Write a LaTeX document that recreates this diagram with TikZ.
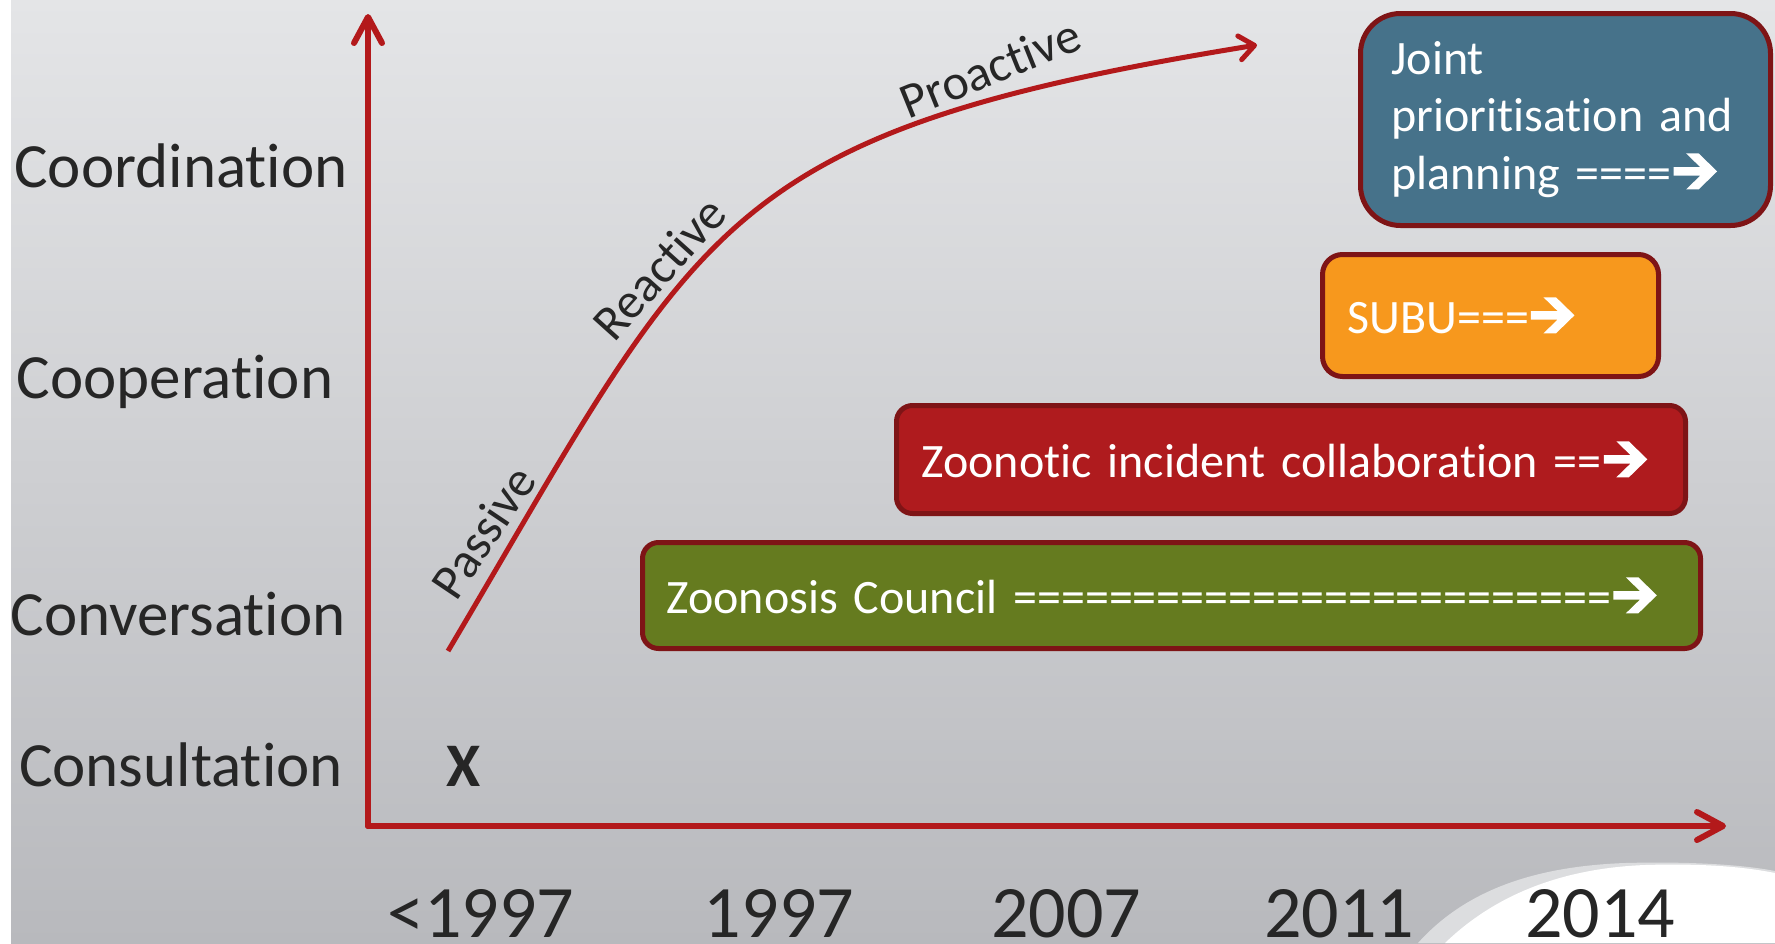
\documentclass[tikz,border=0pt]{standalone}
\usepackage{fontspec}
\setmainfont{Carlito}[Ligatures={NoCommon,NoRequired,NoContextual},Contextuals=NoAlternate]
\usetikzlibrary{arrows.meta}
\definecolor{axisred}{HTML}{B3191B}
\definecolor{txt}{HTML}{262626}
\definecolor{bordred}{HTML}{7E1416}
\definecolor{bluebox}{HTML}{46728A}
\definecolor{orangebox}{HTML}{F7981D}
\definecolor{redbox}{HTML}{AF1B1E}
\definecolor{greenbox}{HTML}{657B1F}
\definecolor{bgtop}{HTML}{E4E5E7}
\definecolor{bgbot}{HTML}{B8B9BD}
\definecolor{swooshgray}{HTML}{DCDDDF}
\newsavebox\arrbox
\sbox\arrbox{\tikz[x=1pt,y=1pt]\fill[white] (0,13.7) -- (26.6,13.7) -- (12.5,0) -- (25,0) -- (43.5,18) -- (25,36) -- (12.5,36) -- (26.6,22.3) -- (0,22.3) -- cycle;}
\newcommand{\rarr}{\kern2pt\usebox\arrbox}
\begin{document}
\begin{tikzpicture}[x=1pt,y=-1pt,
  axisline/.style={draw=axisred, line width=6pt, line cap=round, -{Straight Barb[length=26pt,width=28pt,round]}},
  curveline/.style={draw=axisred, line width=5pt, -{Straight Barb[length=15pt,width=24pt,round]}},
  level/.style={text=txt, inner sep=0pt, anchor=base, font=\fontsize{63}{70}\selectfont},
  year/.style={text=txt, inner sep=0pt, anchor=base, font=\fontsize{74}{80}\selectfont},
  phase/.style={text=txt, inner sep=0pt, font=\fontsize{50}{56}\selectfont},
  box/.style={draw=bordred, line width=5pt, text=white, anchor=north west, align=left,
     font=\fontsize{48}{57.5}\selectfont, inner ysep=0pt},
]
\useasboundingbox (0,0) rectangle (1775,943);
\fill[white] (0,0) rectangle (1775,943);
\shade[top color=bgtop, bottom color=bgbot] (11,0) rectangle (1775,943);
% bottom-right swoosh
\fill[swooshgray] (1418,943) .. controls (1470,885) and (1545,866) .. (1625,863)
   .. controls (1700,861) and (1750,866) .. (1775,871) -- (1775,943) -- cycle;
\fill[white] (1445,943) .. controls (1500,890) and (1570,868) .. (1645,865)
   .. controls (1710,863) and (1750,868) .. (1775,873) -- (1775,943) -- cycle;

% axes
\coordinate (origin) at (368,826);
\coordinate (ytip) at (368,14);
\coordinate (xtip) at (1726,826);
\draw[axisline] (origin) -- (ytip);
\draw[axisline] (origin) -- (xtip);

% level labels
\node[level] (coord) at (181,187) {Coordination};
\node[level] (coop) at (175,398) {Cooperation};
\node[level] (conv) at (178,635) {Conversation};
\node[level] (cons) at (181,786) {Consultation};

% years
\node[year] (y0) at (481,937) {<1997};
\node[year] (y1) at (779,937) {1997};
\node[year] (y2) at (1066,937) {2007};
\node[year] (y3) at (1339,937) {2011};
\node[year] (y4) at (1600,937) {2014};

% X mark
\node[text=txt, inner sep=0pt, anchor=base, font=\fontsize{62}{70}\selectfont\bfseries] (xmark) at (464,786) {X};

% curve
\coordinate (cstart) at (448,651);
\coordinate (cend) at (1257,45);
\draw[curveline] (cstart) .. controls (703,221) and (714,133) .. (cend);
\node[phase, rotate=56] (passive) at (483,532) {Passive};
\node[phase, rotate=48] (reactive) at (659,268) {Reactive};
\node[phase, rotate=22] (proactive) at (990,68) {Proactive};

% boxes
\node[box, fill=greenbox, rounded corners=16pt, minimum width=1058pt, minimum height=106pt,
      text width=1010pt, inner xsep=24pt] (zc) at (640,540)
  {Zoonosis Council =========================\rarr};
\node[box, fill=redbox, rounded corners=16pt, minimum width=789pt, minimum height=108pt,
      text width=739pt, inner xsep=25pt] (zi) at (894,403)
  {Zoonotic incident collaboration ==\rarr};
\node[box, fill=orangebox, rounded corners=20pt, minimum width=336pt, minimum height=122pt,
      text width=286pt, inner xsep=25pt] (subu) at (1320,252)
  {SUBU===\rarr};
\node[box, fill=bluebox, rounded corners=40pt, minimum width=410pt, minimum height=212pt,
      text width=348pt, inner xsep=31pt] (joint) at (1358,11)
  {Joint\\prioritisation and\\planning ====\rarr};
\end{tikzpicture}
\end{document}
